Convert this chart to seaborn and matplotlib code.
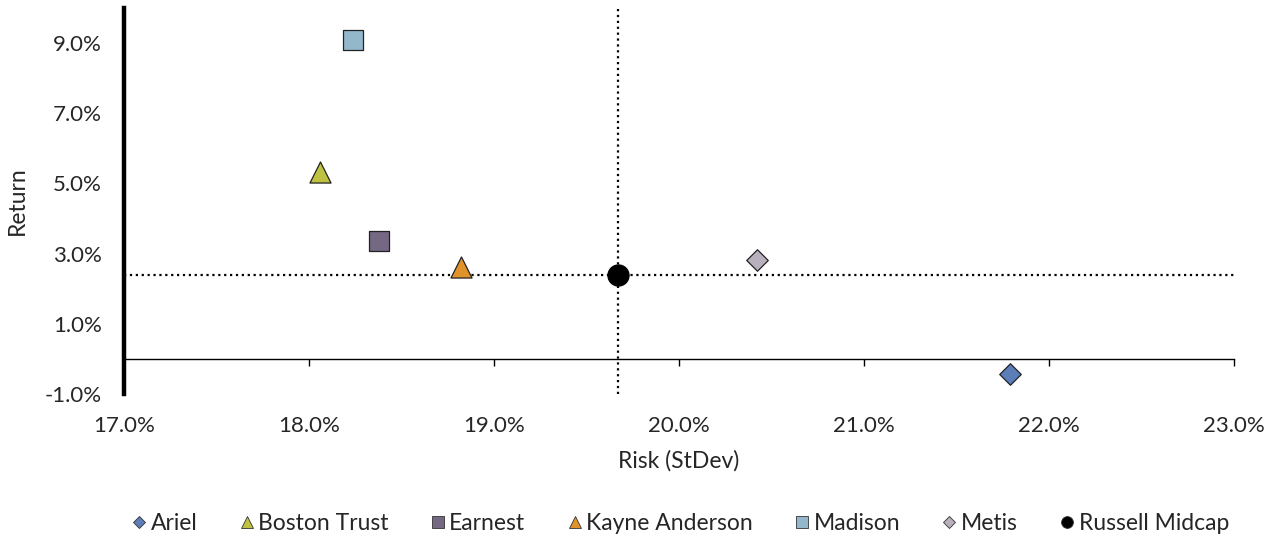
import matplotlib
matplotlib.use("Agg")
import matplotlib.pyplot as plt
from matplotlib.lines import Line2D
from matplotlib.ticker import FuncFormatter
import seaborn as sns
import pandas as pd

managers = ["Ariel", "Boston Trust", "Earnest", "Kayne Anderson", "Madison", "Metis", "Russell Midcap"]
risk = [21.79, 18.06, 18.38, 18.82, 18.24, 20.42, 19.67]
ret = [-0.43, 5.34, 3.35, 2.62, 9.08, 2.82, 2.39]
colors = ["#5B7DB8", "#BFC240", "#756883", "#E0922B", "#93B8CC", "#B8B0BC", "#000000"]
markers = ["D", "^", "s", "^", "s", "D", "o"]
sizes = [120, 230, 200, 230, 200, 120, 230]
x_ticks = [17, 18, 19, 20, 21, 22, 23]
y_ticks = [-1, 1, 3, 5, 7, 9]

df = pd.DataFrame({"Manager": managers, "Risk": risk, "Return": ret})

sns.set_style("white")
plt.rcParams["font.family"] = ["Lato", "DejaVu Sans"]

fig = plt.figure(figsize=(12.78, 5.37), dpi=100)
ax = fig.add_axes([124 / 1278, 1 - 394 / 537, (1234 - 124) / 1278, (394 - 8) / 537])

bench_x = risk[-1]
bench_y = ret[-1]
ax.axhline(bench_y, color="black", linestyle=":", linewidth=1.6, zorder=1)
ax.axvline(bench_x, color="black", linestyle=":", linewidth=1.6, zorder=1)

for i, m in enumerate(managers):
    sns.scatterplot(data=df[df["Manager"] == m], x="Risk", y="Return", ax=ax,
                    marker=markers[i], color=colors[i], s=sizes[i],
                    edgecolor="#222222" if m != "Russell Midcap" else "black",
                    linewidth=0.9, zorder=3, legend=False)

ax.set_xlim(17, 23)
ax.set_ylim(-1, 10)
ax.set_xticks(x_ticks)
ax.set_yticks(y_ticks)
ax.xaxis.set_major_formatter(FuncFormatter(lambda v, p: f"{v:.1f}%"))
ax.yaxis.set_major_formatter(FuncFormatter(lambda v, p: f"{v:.1f}%"))

for s in ["top", "right"]:
    ax.spines[s].set_visible(False)
ax.spines["left"].set_linewidth(3.2)
ax.spines["left"].set_color("black")
ax.spines["bottom"].set_position(("data", 0))
ax.spines["bottom"].set_linewidth(1.0)
ax.spines["bottom"].set_color("black")

ax.tick_params(axis="x", direction="out", length=5, width=1, color="black",
               labelsize=16, pad=36, bottom=True)
ax.tick_params(axis="y", length=0, labelsize=16, pad=16, left=False)

ax.set_xlabel("Risk (StDev)", fontsize=16.5, labelpad=0)
ax.set_ylabel("Return", fontsize=16.5, labelpad=10)
ax.xaxis.set_label_coords(0.5, -0.145)
ax.yaxis.set_label_coords(-0.0865, 0.5)
ax.grid(False)

handles = []
for i, m in enumerate(managers):
    handles.append(Line2D([0], [0], marker=markers[i], linestyle="none",
                          markerfacecolor=colors[i], markeredgecolor="#333333",
                          markeredgewidth=0.6,
                          markersize=6.5 if markers[i] == "D" else 8.5, label=m))
fig.legend(handles=handles, loc="center", bbox_to_anchor=(680 / 1278, 1 - 524 / 537),
           ncol=7, frameon=False, fontsize=16.5, handletextpad=0.15,
           columnspacing=1.8, handlelength=0.7)

fig.savefig("out.png", dpi=100)
